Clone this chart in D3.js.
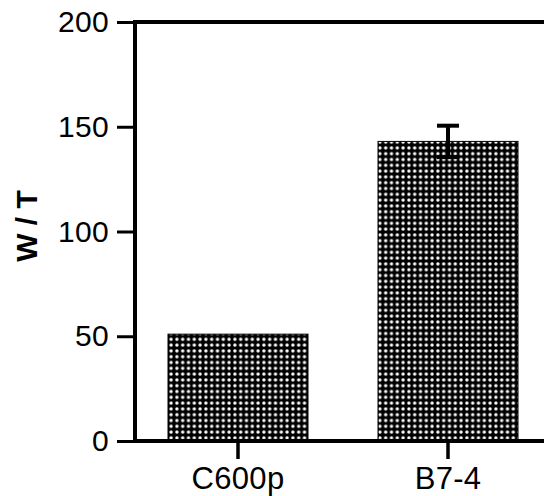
<!DOCTYPE html>
<html><head><meta charset="utf-8">
<script src="https://cdn.jsdelivr.net/npm/d3@7"></script>
<style>body{margin:0;background:#fff}svg{display:block}</style>
</head><body>
<script>
const categories = ["C600p", "B7-4"];
const values = [51, 143];
const errors = [0, 7.5];
const yTicks = [0, 50, 100, 150, 200];
const yLabel = "W / T";

const W = 544, H = 496;
const FONT = "Liberation Sans, Arial, Helvetica, sans-serif";
const svg = d3.select("body").append("svg").attr("width", W).attr("height", H);

const defs = svg.append("defs");
const pat = defs.append("pattern").attr("id", "dots").attr("patternUnits", "userSpaceOnUse")
  .attr("width", 5.8).attr("height", 5.8);
pat.append("rect").attr("width", 5.8).attr("height", 5.8).attr("fill", "#000");
pat.append("circle").attr("cx", 2.9).attr("cy", 2.9).attr("r", 1.7).attr("fill", "#fff");

const x = d3.scaleBand().domain(categories).range([98, 588]).paddingInner(1/3).paddingOuter(1/3);
const y = d3.scaleLinear().domain([0, 200]).range([441, 22]);

// bars
svg.selectAll("rect.bar").data(categories).enter().append("rect")
  .attr("class", "bar")
  .attr("x", d => x(d))
  .attr("width", x.bandwidth())
  .attr("y", (d, i) => y(values[i]))
  .attr("height", (d, i) => y(0) - y(values[i]))
  .attr("fill", "url(#dots)")
  .attr("stroke", "#000").attr("stroke-width", 1);

// error bars
categories.forEach((c, i) => {
  if (!errors[i]) return;
  const cx = x(c) + x.bandwidth() / 2;
  svg.append("line").attr("x1", cx).attr("x2", cx)
    .attr("y1", y(values[i] + errors[i])).attr("y2", y(values[i] - errors[i]))
    .attr("stroke", "#000").attr("stroke-width", 4);
  svg.append("line").attr("x1", cx - 11).attr("x2", cx + 11)
    .attr("y1", y(values[i] + errors[i])).attr("y2", y(values[i] + errors[i]))
    .attr("stroke", "#000").attr("stroke-width", 4);
  svg.append("line").attr("x1", cx - 11).attr("x2", cx + 11)
    .attr("y1", y(values[i] - errors[i])).attr("y2", y(values[i] - errors[i]))
    .attr("stroke", "#000").attr("stroke-width", 4);
});

// top frame line
svg.append("line").attr("x1", 133).attr("x2", W).attr("y1", y(200)).attr("y2", y(200))
  .attr("stroke", "#000").attr("stroke-width", 4);

// y axis
const yAxis = svg.append("g").attr("transform", "translate(135,0)")
  .call(d3.axisLeft(y).tickValues(yTicks).tickSize(18).tickPadding(8));
yAxis.select(".domain").attr("stroke-width", 4).attr("d", `M0,${y(0)+2}V${y(200)-2}`);
yAxis.selectAll(".tick line").attr("stroke-width", 3);
yAxis.selectAll(".tick text").attr("font-family", FONT)
  .attr("font-size", 30).attr("fill", "#000").attr("letter-spacing", 0.3);

// x axis
const xAxis = svg.append("g").attr("transform", `translate(0,${y(0)})`)
  .call(d3.axisBottom(x).tickSize(18).tickPadding(8));
xAxis.select(".domain").attr("stroke-width", 4).attr("d", `M133,0H${W}`);
xAxis.selectAll(".tick line").attr("stroke-width", 3.5);
xAxis.selectAll(".tick text").attr("font-family", FONT)
  .attr("font-size", 31).attr("fill", "#000").attr("letter-spacing", 0.3);

// y label
svg.append("text").attr("transform", `translate(37,${226}) rotate(-90)`)
  .attr("text-anchor", "middle")
  .attr("font-family", FONT)
  .attr("font-weight", "bold").attr("font-size", 30).attr("fill", "#000")
  .text(yLabel);
</script>
</body></html>
